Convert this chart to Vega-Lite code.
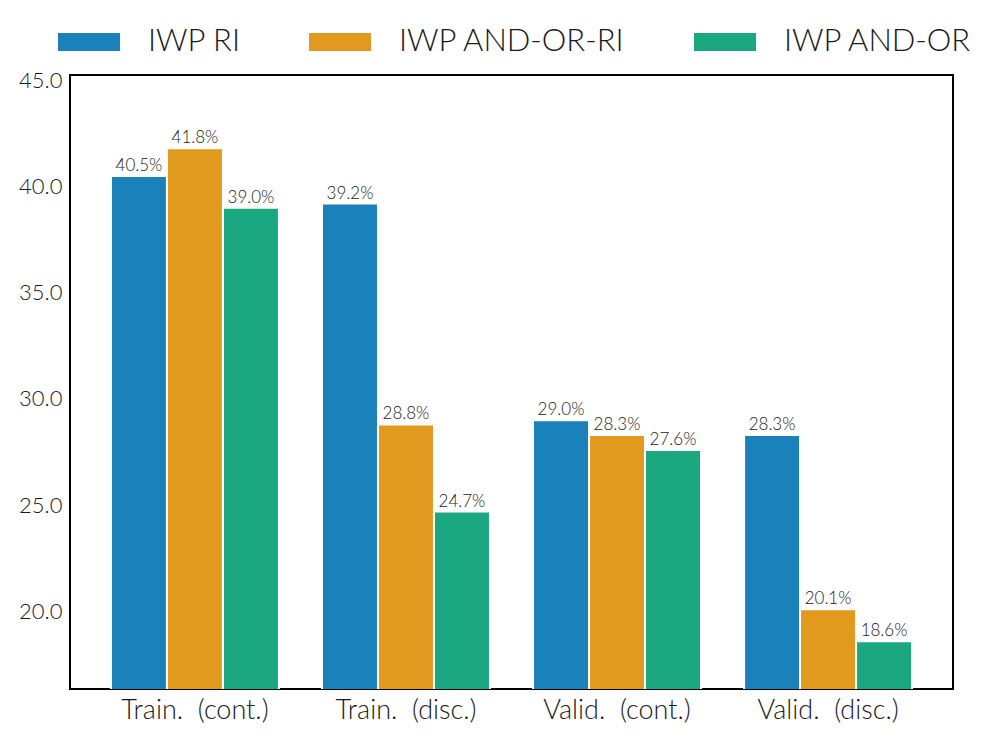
{
  "$schema": "https://vega.github.io/schema/vega-lite/v6.json",
  "width": 883,
  "height": 614,
  "autosize": {"type": "none"},
  "padding": {"left": 70, "top": 75, "right": 44, "bottom": 57},
  "background": "white",
  "config": {
    "view": {"stroke": "#000000", "strokeWidth": 2},
    "font": "Lato"
  },
  "data": {
    "values": [
      {"split": "Train.\u00a0 (cont.)", "method": "IWP RI", "value": 40.5},
      {"split": "Train.\u00a0 (cont.)", "method": "IWP AND-OR-RI", "value": 41.8},
      {"split": "Train.\u00a0 (cont.)", "method": "IWP AND-OR", "value": 39.0},
      {"split": "Train.\u00a0 (disc.)", "method": "IWP RI", "value": 39.2},
      {"split": "Train.\u00a0 (disc.)", "method": "IWP AND-OR-RI", "value": 28.8},
      {"split": "Train.\u00a0 (disc.)", "method": "IWP AND-OR", "value": 24.7},
      {"split": "Valid.\u00a0 (cont.)", "method": "IWP RI", "value": 29.0},
      {"split": "Valid.\u00a0 (cont.)", "method": "IWP AND-OR-RI", "value": 28.3},
      {"split": "Valid.\u00a0 (cont.)", "method": "IWP AND-OR", "value": 27.6},
      {"split": "Valid.\u00a0 (disc.)", "method": "IWP RI", "value": 28.3},
      {"split": "Valid.\u00a0 (disc.)", "method": "IWP AND-OR-RI", "value": 20.1},
      {"split": "Valid.\u00a0 (disc.)", "method": "IWP AND-OR", "value": 18.6}
    ]
  },
  "encoding": {
    "x": {
      "field": "split", "type": "nominal", "sort": null,
      "scale": {"paddingInner": 0.204, "paddingOuter": 0.194},
      "axis": {"title": null, "labelAngle": 0, "labelFontSize": 27, "labelFontWeight": 300, "labelColor": "#1a1a1a", "ticks": false, "domain": false, "labelPadding": 8, "labelFont": "Lato"}
    },
    "xOffset": {
      "field": "method", "type": "nominal",
      "sort": ["IWP RI", "IWP AND-OR-RI", "IWP AND-OR"],
      "scale": {"paddingInner": 0, "paddingOuter": 0}
    },
    "y": {
      "field": "value", "type": "quantitative",
      "scale": {"domain": [16.35, 45.25], "nice": false, "zero": false},
      "axis": {"title": null, "values": [20, 25, 30, 35, 40, 45], "format": ".1f", "labelFontSize": 22, "labelFontWeight": 300, "labelColor": "#1a1a1a", "ticks": false, "domain": false, "grid": false, "labelPadding": 8, "labelFont": "Lato"}
    }
  },
  "layer": [
    {
      "mark": {"type": "bar", "stroke": "white", "strokeWidth": 2, "clip": true},
      "encoding": {
        "color": {
          "field": "method", "type": "nominal",
          "sort": ["IWP RI", "IWP AND-OR-RI", "IWP AND-OR"],
          "scale": {"domain": ["IWP RI", "IWP AND-OR-RI", "IWP AND-OR"], "range": ["#1a81ba", "#e19a1e", "#1ba881"]},
          "legend": {
            "title": null, "orient": "none", "direction": "horizontal",
            "legendX": -12, "legendY": -64,
            "symbolType": "M-1,-0.29L1,-0.29L1,0.29L-1,0.29Z",
            "symbolSize": 3844, "symbolStrokeWidth": 0, "symbolOpacity": 1,
            "labelFontSize": 31, "labelFontWeight": 300, "labelColor": "#1a1a1a", "labelOffset": 28,
            "columnPadding": 68, "labelFont": "Lato", "labelLimit": 400
          }
        }
      }
    },
    {
      "mark": {"type": "text", "baseline": "bottom", "dy": -1, "fontSize": 17, "fontWeight": 300, "color": "#1a1a1a", "font": "Lato",
        "text": {"expr": "format(datum.value, '.1f') + '%'"}}
    }
  ]
}
